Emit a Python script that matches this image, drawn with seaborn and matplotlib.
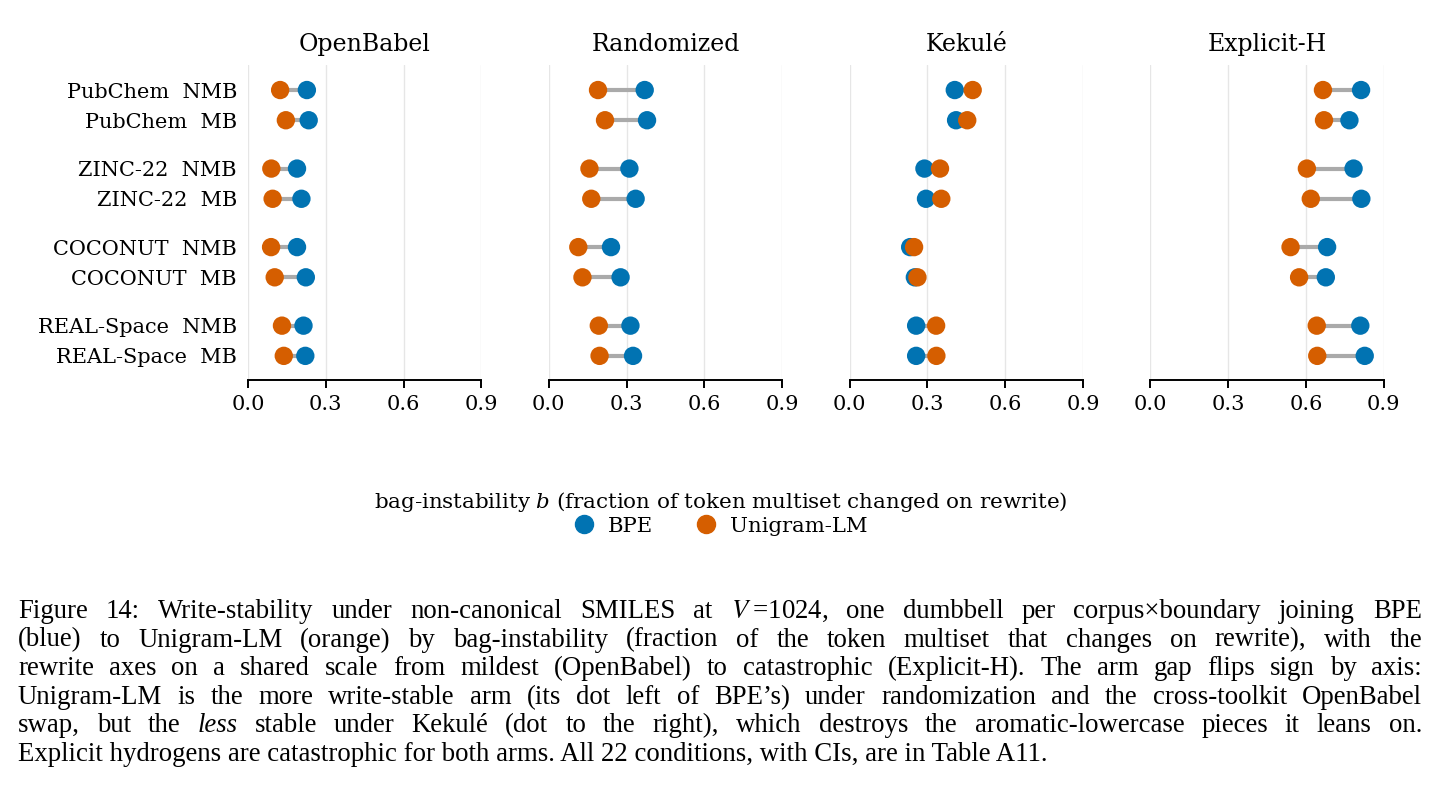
import numpy as np
import pandas as pd
import seaborn as sns
import matplotlib.pyplot as plt
from matplotlib.lines import Line2D

# data
rows = ["PubChem  NMB", "PubChem  MB", "ZINC-22  NMB", "ZINC-22  MB",
        "COCONUT  NMB", "COCONUT  MB", "REAL-Space  NMB", "REAL-Space  MB"]
rewrites = ["OpenBabel", "Randomized", "Kekulé", "Explicit-H"]

bpe_openbabel = [0.227, 0.234, 0.189, 0.206, 0.189, 0.223, 0.214, 0.221]
uni_openbabel = [0.124, 0.146, 0.090, 0.095, 0.089, 0.103, 0.131, 0.138]
bpe_randomized = [0.370, 0.379, 0.311, 0.335, 0.240, 0.277, 0.315, 0.325]
uni_randomized = [0.190, 0.217, 0.157, 0.164, 0.114, 0.130, 0.193, 0.196]
bpe_kekule = [0.406, 0.411, 0.289, 0.295, 0.234, 0.252, 0.257, 0.257]
uni_kekule = [0.475, 0.454, 0.349, 0.354, 0.249, 0.262, 0.334, 0.335]
bpe_explicit = [0.813, 0.768, 0.784, 0.814, 0.682, 0.677, 0.810, 0.827]
uni_explicit = [0.666, 0.670, 0.604, 0.619, 0.541, 0.574, 0.642, 0.644]

bpe = {"OpenBabel": bpe_openbabel, "Randomized": bpe_randomized,
       "Kekulé": bpe_kekule, "Explicit-H": bpe_explicit}
uni = {"OpenBabel": uni_openbabel, "Randomized": uni_randomized,
       "Kekulé": uni_kekule, "Explicit-H": uni_explicit}

BLUE = "#0173b2"
ORANGE = "#d55e00"

sns.set_theme(style="white")
plt.rcParams["font.family"] = ["DejaVu Serif"]
plt.rcParams["mathtext.fontset"] = "dejavuserif"
plt.rcParams["text.color"] = "black"
plt.rcParams["xtick.color"] = "black"
plt.rcParams["ytick.color"] = "black"

# row positions: pairs of rows with a gap between corpora
ypos = np.array([i + 0.6 * (i // 2) for i in range(len(rows))])

fig, axes = plt.subplots(1, 4, figsize=(14.41, 8.06), dpi=100, sharey=True)
fig.subplots_adjust(left=0.1721, right=0.9602, bottom=0.5285, top=0.9194, wspace=0.2886)

for ax, name in zip(axes, rewrites):
    df = pd.DataFrame({
        "row": rows * 2,
        "y": np.concatenate([ypos, ypos]),
        "b": bpe[name] + uni[name],
        "arm": ["BPE"] * len(rows) + ["Unigram-LM"] * len(rows),
    })
    ax.hlines(ypos, bpe[name], uni[name], color="#aaaaaa", lw=3, zorder=2)
    sns.scatterplot(data=df, x="b", y="y", hue="arm",
                    palette={"BPE": BLUE, "Unigram-LM": ORANGE},
                    s=175, linewidth=0, legend=False, ax=ax, zorder=3)
    ax.set_xlim(0, 0.9)
    ax.set_ylim(ypos[-1] + 0.8, ypos[0] - 0.83)
    ax.set_xticks([0.0, 0.3, 0.6, 0.9])
    ax.set_xticklabels(["0.0", "0.3", "0.6", "0.9"])
    ax.grid(axis="x", color="#e6e6e6", lw=1.0, zorder=0)
    ax.set_axisbelow(True)
    for s in ["left", "right", "top"]:
        ax.spines[s].set_visible(False)
    ax.spines["bottom"].set_color("black")
    ax.spines["bottom"].set_linewidth(1.4)
    ax.tick_params(axis="x", bottom=True, length=6, width=1.4, pad=5, labelsize=15)
    ax.tick_params(axis="y", left=False, length=0, pad=8, labelsize=15)
    ax.set_xlabel("")
    ax.set_ylabel("")
    ax.set_title(name, fontsize=17, pad=10, color="black")

axes[0].set_yticks(ypos)
axes[0].set_yticklabels(rows)

fig.text(0.5, 1 - 502 / 806, "bag-instability $b$ (fraction of token multiset changed on rewrite)",
         ha="center", va="center", fontsize=15.4)

handles = [Line2D([], [], ls="", marker="o", ms=13, color=BLUE, label="BPE"),
           Line2D([], [], ls="", marker="o", ms=13, color=ORANGE, label="Unigram-LM")]
fig.legend(handles=handles, loc="center", bbox_to_anchor=(0.5, 1 - 526 / 806), ncol=2,
           frameon=False, fontsize=15.3, handletextpad=0.6, columnspacing=2.0,
           borderpad=0, handlelength=1.0)

# caption: justified lines, last line left as it is
caption = [
    "Figure 14: Write-stability under non-canonical SMILES at $V\\;$=1024, one dumbbell per corpus×boundary joining BPE",
    "(blue) to Unigram-LM (orange) by bag-instability (fraction of the token multiset that changes on rewrite), with the",
    "rewrite axes on a shared scale from mildest (OpenBabel) to catastrophic (Explicit-H). The arm gap flips sign by axis:",
    "Unigram-LM is the more write-stable arm (its dot left of BPE’s) under randomization and the cross-toolkit OpenBabel",
    "swap, but the _less stable under Kekulé (dot to the right), which destroys the aromatic-lowercase pieces it leans on.",
]
last_line = "Explicit hydrogens are catastrophic for both arms. All 22 conditions, with CIs, are in Table A11."

renderer = fig.canvas.get_renderer()
x_left, x_right = 18, 1422
cap_kw = dict(family="Liberation Serif", fontsize=19.3, va="baseline", ha="left",
              math_fontfamily="stix", color="black")
for k, line in enumerate(caption):
    yb = 1 - (618 + 28.6 * k) / 806
    words = line.split(" ")
    texts = []
    for w in words:
        style = "normal"
        if w.startswith("_"):
            w = w[1:]
            style = "italic"
        texts.append(fig.text(0, yb, w, style=style, **cap_kw))
    widths = [t.get_window_extent(renderer).width for t in texts]
    gap = (x_right - x_left - sum(widths)) / (len(words) - 1)
    x = x_left
    for t, w in zip(texts, widths):
        t.set_x(x / 1441)
        x += w + gap
fig.text(x_left / 1441, 1 - (618 + 28.6 * 5) / 806, last_line, **cap_kw)

fig.savefig("out.png", dpi=100)
